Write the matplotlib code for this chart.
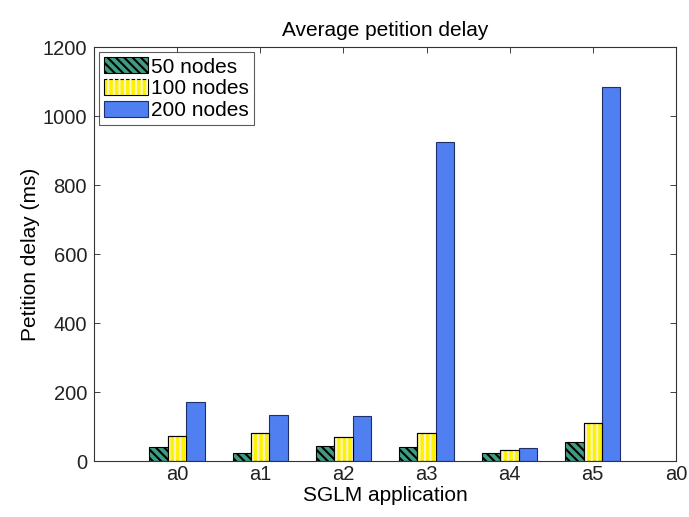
import matplotlib
matplotlib.use("Agg")
import matplotlib.pyplot as plt
import numpy as np

plt.rcParams['font.family'] = ['Liberation Sans', 'DejaVu Sans']
plt.rcParams['hatch.linewidth'] = 1.5

# Data
apps = ["a0", "a1", "a2", "a3", "a4", "a5"]
series_names = ["50 nodes", "100 nodes", "200 nodes"]
delay_50 = [42, 23, 43, 40, 23, 54]
delay_100 = [73, 81, 70, 81, 33, 109]
delay_200 = [170, 133, 130, 925, 37, 1085]
tick_labels = ["a0", "a1", "a2", "a3", "a4", "a5", "a0"]

fig = plt.figure(figsize=(6.89, 5.17), dpi=100)
ax = fig.add_axes([0.1364, 0.1083, 0.8446, 0.8007])

x = np.arange(1, len(apps) + 1)
w = 0.222

green_face = "#3f9c82"
yellow_face = "#fff200"
blue_face = "#4f7ff0"

b1 = ax.bar(x - w, delay_50, w, color=green_face, edgecolor="black",
            linewidth=0.8, hatch="\\\\\\\\", zorder=2)
b2 = ax.bar(x, delay_100, w, color=yellow_face, edgecolor="black",
            linewidth=0.8, zorder=2)
# light vertical stripes on the yellow bars
b2h = ax.bar(x, delay_100, w, fill=False, edgecolor="#f7f2c8",
             linewidth=0, hatch="|||", zorder=3)
b3 = ax.bar(x + w, delay_200, w, color=blue_face, edgecolor="#1f2f6a",
            linewidth=0.8, zorder=2)
# redraw yellow outline above the stripes
ax.bar(x, delay_100, w, fill=False, edgecolor="black", linewidth=0.8, zorder=4)

ax.set_xlim(0, 7)
ax.set_ylim(0, 1200)
ax.set_xticks(np.arange(1, 8))
ax.set_xticklabels(tick_labels)
ax.set_yticks(np.arange(0, 1201, 200))

ax.tick_params(direction="in", top=True, right=True, labelsize=14.5,
               length=4, width=0.6, colors="#222222", pad=5)
ax.tick_params(axis="x", pad=3)
for s in ax.spines.values():
    s.set_linewidth(0.8)
    s.set_color("#333333")

ax.set_title("Average petition delay", fontsize=15, pad=8)
ax.set_xlabel("SGLM application", fontsize=15, labelpad=1)
ax.set_ylabel("Petition delay (ms)", fontsize=15, labelpad=2)

leg = ax.legend([b1, (b2, b2h), b3], series_names, loc="upper left",
                fontsize=15, frameon=True, fancybox=False, borderpad=0.25,
                handlelength=2.1, handleheight=0.8, handletextpad=0.15,
                labelspacing=0.12, borderaxespad=0.25)
leg.get_frame().set_edgecolor("#333333")
leg.get_frame().set_linewidth(0.8)

fig.savefig("out.png", dpi=100)
